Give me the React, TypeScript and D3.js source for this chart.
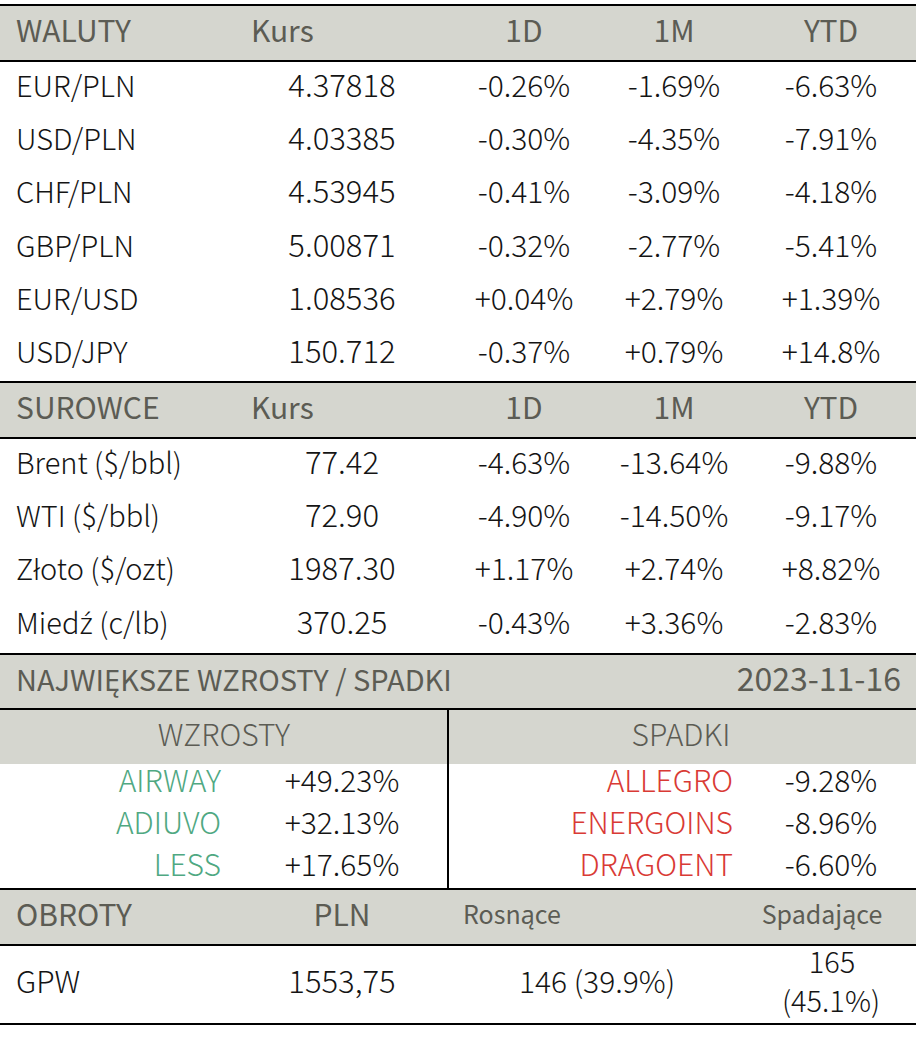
import React from "react";
import * as d3 from "d3";

const currencyNames = ["EUR/PLN", "USD/PLN", "CHF/PLN", "GBP/PLN", "EUR/USD", "USD/JPY"];
const currencyRates = ["4.37818", "4.03385", "4.53945", "5.00871", "1.08536", "150.712"];
const currency1D = ["-0.26%", "-0.30%", "-0.41%", "-0.32%", "+0.04%", "-0.37%"];
const currency1M = ["-1.69%", "-4.35%", "-3.09%", "-2.77%", "+2.79%", "+0.79%"];
const currencyYTD = ["-6.63%", "-7.91%", "-4.18%", "-5.41%", "+1.39%", "+14.8%"];

const commodityNames = ["Brent ($/bbl)", "WTI ($/bbl)", "Z\u0142oto ($/ozt)", "Mied\u017A (c/lb)"];
const commodityRates = ["77.42", "72.90", "1987.30", "370.25"];
const commodity1D = ["-4.63%", "-4.90%", "+1.17%", "-0.43%"];
const commodity1M = ["-13.64%", "-14.50%", "+2.74%", "+3.36%"];
const commodityYTD = ["-9.88%", "-9.17%", "+8.82%", "-2.83%"];

const gainerNames = ["AIRWAY", "ADIUVO", "LESS"];
const gainerValues = ["+49.23%", "+32.13%", "+17.65%"];
const loserNames = ["ALLEGRO", "ENERGOINS", "DRAGOENT"];
const loserValues = ["-9.28%", "-8.96%", "-6.60%"];

const marketHeaders = ["1D", "1M", "YTD"];
const turnoverHeaders = ["OBROTY", "PLN", "Rosn\u0105ce", "Spadaj\u0105ce"];
const turnoverValues = ["GPW", "1553,75", "146 (39.9%)", "165", "(45.1%)"];
const reportDate = "2023-11-16";

const W = 916;
const H = 1042;
const FONT = "'Noto Sans CJK SC', 'Noto Sans', sans-serif";
const FALLBACK_FONT = "'Noto Sans', 'DejaVu Sans', sans-serif";
const HEAD_BG = "#d5d6cf";
const HEAD_FG = "#5c5c54";
const BODY_FG = "#141414";
const GREEN = "#4fa882";
const RED = "#d93a35";

const NAME_SIZE = 29;
const NUM_SIZE = 31;
const PCT_SIZE = 30;
const HEAD_SIZE = 30;

const colX = d3.scaleOrdinal<string, number>()
  .domain(["label", "kursHead", "kurs", "1D", "1M", "YTD"])
  .range([16, 251, 342, 524, 674, 831]);

const rowY = (start: number, step: number, n: number) =>
  d3.scaleLinear().domain([0, n - 1]).range([start, start + step * (n - 1)]);

// characters the CJK font renders badly get a Latin fallback font
const SPECIAL = /[\u017A\u0179]/;
function label(s: string) {
  const parts = s.split(/([\u017A\u0179])/).filter((p) => p.length);
  return parts.map((p, i) =>
    SPECIAL.test(p) ? <tspan key={i} fontFamily={FALLBACK_FONT}>{p}</tspan> : <tspan key={i}>{p}</tspan>
  );
}

function Section({ title, names, rates, d1, m1, ytd, top }: any) {
  const headTop = top;
  const headBottom = top + 56;
  const ys = rowY(headBottom + 36, 53.2, names.length);
  return (
    <g>
      <rect x={0} y={headTop} width={W} height={56} fill={HEAD_BG} />
      <line x1={0} x2={W} y1={headTop} y2={headTop} stroke="#000" strokeWidth={2.2} />
      <line x1={0} x2={W} y1={headBottom} y2={headBottom} stroke="#000" strokeWidth={2.2} />
      <g fill={HEAD_FG} fontSize={HEAD_SIZE}>
        <text x={colX("label")} y={headTop + 37}>{title}</text>
        <text x={colX("kursHead")} y={headTop + 37}>Kurs</text>
        {marketHeaders.map((h) => (
          <text key={h} x={colX(h)} y={headTop + 37} textAnchor="middle">{h}</text>
        ))}
      </g>
      <g fill={BODY_FG} fontWeight={300}>
        {names.map((n: string, i: number) => (
          <g key={n} transform={`translate(0,${ys(i)})`}>
            <text x={colX("label")} fontSize={NAME_SIZE}>{label(n)}</text>
            <text x={colX("kurs")} textAnchor="middle" fontSize={NUM_SIZE}>{rates[i]}</text>
            <text x={colX("1D")} textAnchor="middle" fontSize={PCT_SIZE}>{d1[i]}</text>
            <text x={colX("1M")} textAnchor="middle" fontSize={PCT_SIZE}>{m1[i]}</text>
            <text x={colX("YTD")} textAnchor="middle" fontSize={PCT_SIZE}>{ytd[i]}</text>
          </g>
        ))}
      </g>
    </g>
  );
}

export default function App() {
  const moverY = rowY(792, 42, 3);
  return (
    <svg width={W} height={H} style={{ position: "absolute", left: 0, top: 0, background: "#fff" }}
      fontFamily={FONT}>
      <Section title="WALUTY" names={currencyNames} rates={currencyRates} d1={currency1D}
        m1={currency1M} ytd={currencyYTD} top={5} />
      <Section title="SUROWCE" names={commodityNames} rates={commodityRates} d1={commodity1D}
        m1={commodity1M} ytd={commodityYTD} top={382} />

      {/* movers */}
      <rect x={0} y={654} width={W} height={110} fill={HEAD_BG} />
      <line x1={0} x2={W} y1={654} y2={654} stroke="#000" strokeWidth={2.2} />
      <line x1={0} x2={W} y1={709} y2={709} stroke="#000" strokeWidth={2.2} />
      <line x1={448} x2={448} y1={709} y2={889} stroke="#000" strokeWidth={2} />
      <g fill={HEAD_FG}>
        <text x={16} y={691} fontSize={29}>NAJWIĘKSZE WZROSTY / SPADKI</text>
        <text x={901} y={691} textAnchor="end" fontSize={32}>{reportDate}</text>
      </g>
      <g fill={HEAD_FG} fontSize={30} fontWeight={300} textAnchor="middle">
        <text x={224} y={746}>WZROSTY</text>
        <text x={681} y={746}>SPADKI</text>
      </g>
      <g fontWeight={300}>
        {gainerNames.map((n, i) => (
          <g key={n} transform={`translate(0,${moverY(i)})`}>
            <text x={221} textAnchor="end" fill={GREEN} fontSize={30}>{n}</text>
            <text x={342} textAnchor="middle" fill={BODY_FG} fontSize={PCT_SIZE}>{gainerValues[i]}</text>
          </g>
        ))}
        {loserNames.map((n, i) => (
          <g key={n} transform={`translate(0,${moverY(i)})`}>
            <text x={733} textAnchor="end" fill={RED} fontSize={30}>{n}</text>
            <text x={831} textAnchor="middle" fill={BODY_FG} fontSize={PCT_SIZE}>{loserValues[i]}</text>
          </g>
        ))}
      </g>

      {/* turnover */}
      <rect x={0} y={889} width={W} height={56} fill={HEAD_BG} />
      <line x1={0} x2={W} y1={889} y2={889} stroke="#000" strokeWidth={2.2} />
      <line x1={0} x2={W} y1={945} y2={945} stroke="#000" strokeWidth={2.2} />
      <line x1={0} x2={W} y1={1024} y2={1024} stroke="#000" strokeWidth={2.2} />
      <g fill={HEAD_FG}>
        <text x={16} y={926} fontSize={HEAD_SIZE}>{turnoverHeaders[0]}</text>
        <text x={342} y={926} fontSize={HEAD_SIZE} textAnchor="middle">{turnoverHeaders[1]}</text>
        <text x={463} y={924} fontSize={25}>{turnoverHeaders[2]}</text>
        <text x={822} y={924} fontSize={25} textAnchor="middle">{turnoverHeaders[3]}</text>
      </g>
      <g fill={BODY_FG} fontWeight={300}>
        <text x={16} y={993} fontSize={30}>{turnoverValues[0]}</text>
        <text x={342} y={993} textAnchor="middle" fontSize={NUM_SIZE}>{turnoverValues[1]}</text>
        <text x={597} y={993} textAnchor="middle" fontSize={PCT_SIZE}>{turnoverValues[2]}</text>
        <text x={832} y={973} textAnchor="middle" fontSize={29}>{turnoverValues[3]}</text>
        <text x={831} y={1012} textAnchor="middle" fontSize={29}>{turnoverValues[4]}</text>
      </g>
    </svg>
  );
}
